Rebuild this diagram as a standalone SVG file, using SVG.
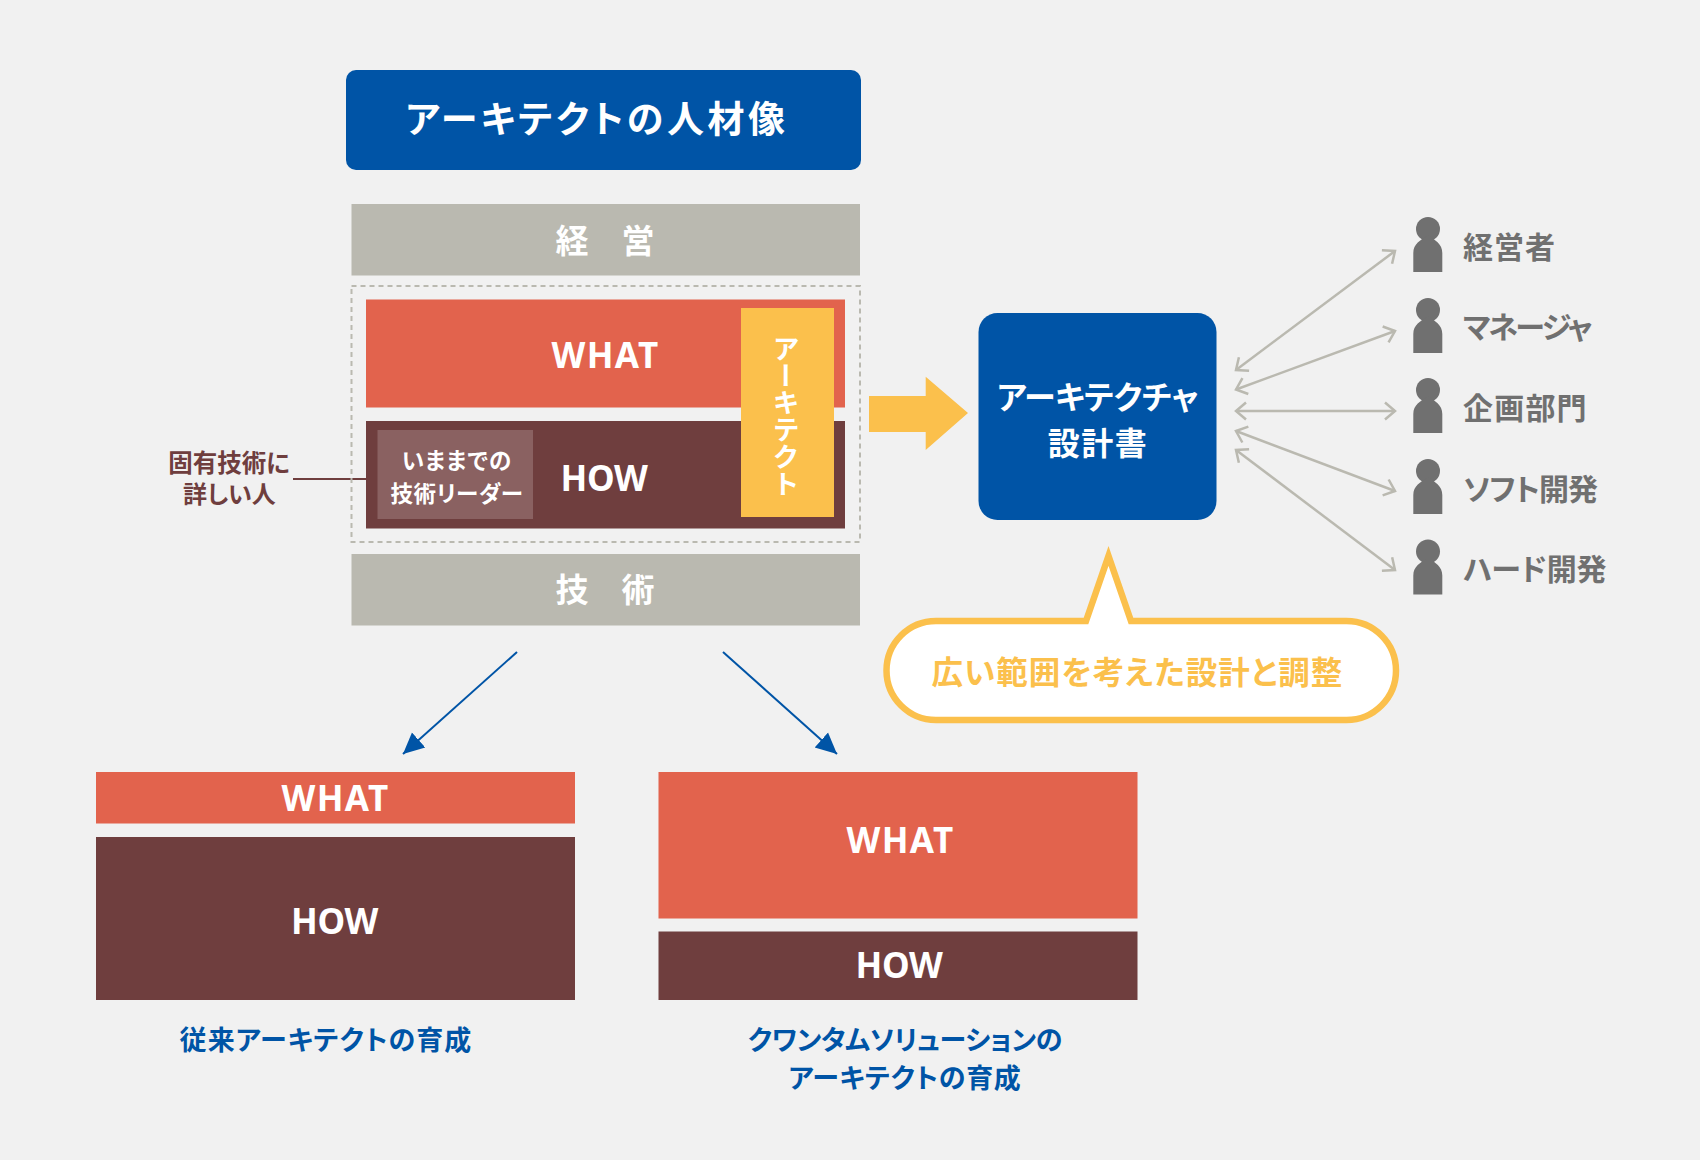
<svg xmlns="http://www.w3.org/2000/svg" width="1700" height="1160" viewBox="0 0 1700 1160">
<style>
text{font-family:"Noto Sans CJK JP","Noto Sans",sans-serif;font-weight:700;font-feature-settings:"palt";text-anchor:middle}
.w{fill:#fff}
.what{fill:#e2634d}
.how{fill:#6f3e3e}
.band{fill:#bab9b0}
.blue{fill:#0054a6}
.en{font-family:"Noto Sans","Noto Sans CJK JP",sans-serif;font-size:35px;letter-spacing:1.3px}
.h{font-family:"Noto Sans","Noto Sans CJK JP",sans-serif;font-size:35px;letter-spacing:-0.3px}
.p{fill:#707070;font-size:30px;text-anchor:start}
.lab{fill:#0054a6;font-size:27px}
.g{stroke:#bab9b0;stroke-width:2.500;fill:none;marker-start:url(#open);marker-end:url(#open)}
.b{stroke:#0054a6;stroke-width:2;fill:none;marker-end:url(#solid)}
</style>
<defs>
<marker id="open" viewBox="0 0 20 20" refX="15" refY="10" markerWidth="20" markerHeight="20" markerUnits="userSpaceOnUse" orient="auto-start-reverse"><path d="M5 1.500L15 10L5 18.500" fill="none" stroke="#bab9b0" stroke-width="2.500"/></marker>
<marker id="solid" viewBox="0 0 22 22" refX="21" refY="11" markerWidth="22" markerHeight="22" markerUnits="userSpaceOnUse" orient="auto"><path d="M0 1L21 11L0 21Z" fill="#0054a6"/></marker>
<g id="person"><circle cx="14.700" cy="12" r="12"/><path d="M0 55V36C0 27 7 23 14.700 18.500C22 23 29 27 29 36V55Z"/></g>
</defs>
<rect width="1700" height="1160" fill="#f1f1f1"/>
<g id="connectors">
<line x1="293" y1="479" x2="366" y2="479" stroke="#6f3e3e" stroke-width="2"/>
<path class="b" d="M517 652L403 754"/>
<path class="b" d="M723 652L837 754"/>
<path class="g" d="M1236 370L1395 251"/>
<path class="g" d="M1236 389.500L1395 331"/>
<path class="g" d="M1236 411L1395 411"/>
<path class="g" d="M1236 431L1395 491"/>
<path class="g" d="M1236 450L1395 570"/>
<path id="big-arrow" fill="#fbc04c" d="M869 396H925.700V376.700L968 413L925.700 450V432H869Z"/>
</g>
<g id="title"><rect class="blue" x="346" y="70" width="515" height="100" rx="10"/><text class="w" x="597" y="133" font-size="37" letter-spacing="3.500">アーキテクトの人材像</text></g>
<g id="keiei"><rect class="band" x="351.500" y="204" width="508.500" height="71.500"/><text class="w" x="605" y="253" font-size="33">経　営</text></g>
<g id="frame"><rect x="351.500" y="286" width="508.500" height="256" fill="none" stroke="#bab9b0" stroke-width="2" stroke-dasharray="5 4"/></g>
<g id="what-main"><rect class="what" x="366" y="299.500" width="479" height="108"/><text class="w en" x="605.500" y="368">WHAT</text></g>
<g id="how-main"><rect class="how" x="366" y="421" width="479" height="107.500"/><text class="w h" x="604" y="491">HOW</text></g>
<g id="leader"><rect x="377.500" y="430" width="155.500" height="89" fill="#8a6161"/><text class="w" x="457" y="468.500" font-size="22.500" letter-spacing="1">いままでの</text><text class="w" x="457" y="502" font-size="22.500" letter-spacing="0.500">技術リーダー</text></g>
<g id="architect"><rect x="741" y="308" width="93" height="209" fill="#fbc04c"/><text class="w" x="786" y="416" font-size="27" style="writing-mode:vertical-rl">アーキテクト</text></g>
<g id="gijutsu"><rect class="band" x="351.500" y="554" width="508.500" height="71.500"/><text class="w" x="605" y="602" font-size="33">技　術</text></g>
<g id="detail-label"><text x="229" y="472" font-size="24.500" fill="#6f3e3e">固有技術に</text><text x="229.500" y="503" font-size="24" fill="#6f3e3e">詳しい人</text></g>
<g id="design-doc"><rect class="blue" x="978.500" y="313" width="238" height="207" rx="19"/><text class="w" x="1097.500" y="409" font-size="32" letter-spacing="-0.300">アーキテクチャ</text><text class="w" x="1098" y="455" font-size="32" letter-spacing="1.500">設計書</text></g>
<g id="callout"><path d="M936 621H1086L1108.500 556L1131 621H1346.500A49.500 49.500 0 0 1 1346.500 720H936A49.500 49.500 0 0 1 936 621Z" fill="#fff" stroke="#fbc04c" stroke-width="6.500" stroke-miterlimit="12"/><text x="1137.500" y="684" font-size="31.500" letter-spacing="1.080" fill="#fbc04c">広い範囲を考えた設計と調整</text></g>
<g id="p1"><use href="#person" x="1413.300" y="217" fill="#707070"/><text class="p" x="1463" y="258" letter-spacing="1">経営者</text></g>
<g id="p2"><use href="#person" x="1413.300" y="298" fill="#707070"/><text class="p" x="1463" y="338" letter-spacing="-2.400">マネージャ</text></g>
<g id="p3"><use href="#person" x="1413.300" y="378" fill="#707070"/><text class="p" x="1463" y="419" letter-spacing="1.200">企画部門</text></g>
<g id="p4"><use href="#person" x="1413.300" y="459" fill="#707070"/><text class="p" x="1463" y="500" letter-spacing="-0.900">ソフト開発</text></g>
<g id="p5"><use href="#person" x="1413.300" y="539.500" fill="#707070"/><text class="p" x="1463" y="580" letter-spacing="-0.200">ハード開発</text></g>
<g id="left-what"><rect class="what" x="96" y="772" width="479" height="51.500"/><text class="w en" x="335.500" y="811">WHAT</text></g>
<g id="left-how"><rect class="how" x="96" y="837" width="479" height="163"/><text class="w h" x="334.500" y="933.500">HOW</text></g>
<g id="right-what"><rect class="what" x="658.500" y="772" width="479" height="146.500"/><text class="w en" x="900.500" y="853">WHAT</text></g>
<g id="right-how"><rect class="how" x="658.500" y="931.500" width="479" height="68.500"/><text class="w h" x="899" y="978">HOW</text></g>
<g id="left-label"><text class="lab" x="326" y="1050" letter-spacing="1.100">従来アーキテクトの育成</text></g>
<g id="right-label"><text class="lab" x="905" y="1050" letter-spacing="-0.300">クワンタムソリューションの</text><text class="lab" x="905" y="1088" letter-spacing="0.700">アーキテクトの育成</text></g>
</svg>
